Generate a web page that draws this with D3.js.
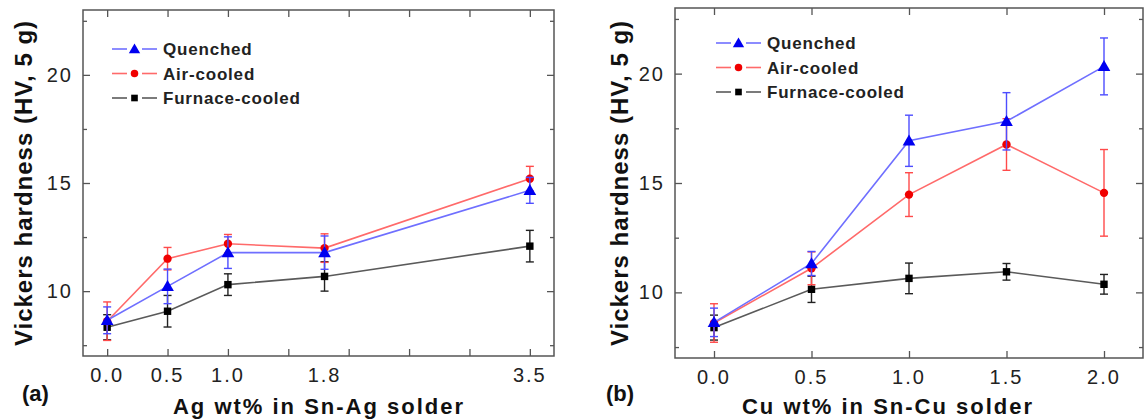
<!DOCTYPE html>
<html>
<head>
<meta charset="utf-8">
<script src="https://cdn.jsdelivr.net/npm/d3@7"></script>
<style>
  body { margin: 0; background: #fff; }
  svg { display: block; font-family: "Liberation Sans", Arial, sans-serif; }
</style>
</head>
<body>
<svg width="1148" height="419"></svg>
<script>
// series names
var seriesNames = ["Quenched", "Air-cooled", "Furnace-cooled"];

// panel (a): Sn-Ag solder
var agX = [0, 0.5, 1.0, 1.8, 3.5];
var agQuenched = [8.65, 10.22, 11.78, 11.78, 14.66];
var agQuenchedErr = [0.62, 0.8, 0.73, 0.77, 0.6];
var agAir = [8.61, 11.5, 12.19, 11.99, 15.2];
var agAirErr = [0.89, 0.52, 0.43, 0.66, 0.57];
var agFurnace = [8.33, 9.07, 10.3, 10.68, 12.08];
var agFurnaceErr = [0.58, 0.73, 0.5, 0.68, 0.73];
var agTickLabels = [0, 0.5, 1.0, 1.8, 3.5];
var agTickMarks = [0, 0.5, 1.0, 1.5, 2.0, 2.5, 3.0, 3.5];

// panel (b): Sn-Cu solder
var cuX = [0, 0.5, 1.0, 1.5, 2.0];
var cuQuenched = [8.63, 11.32, 16.93, 17.82, 20.33];
var cuQuenchedErr = [0.65, 0.55, 1.17, 1.31, 1.3];
var cuAir = [8.6, 11.1, 14.47, 16.76, 14.55];
var cuAirErr = [0.88, 0.75, 1.0, 1.18, 1.98];
var cuFurnace = [8.39, 10.14, 10.64, 10.94, 10.37];
var cuFurnaceErr = [0.57, 0.6, 0.7, 0.38, 0.45];
var cuTickLabels = [0, 0.5, 1.0, 1.5, 2.0];
var cuTickMarks = [0, 0.5, 1.0, 1.5, 2.0];

var yMajor = [10, 15, 20];
var yMinor = [7.5, 12.5, 17.5, 22.5];

var styles = [
  {line: "#6f6fff", mark: "#0000f0", err: "#4d4dff", shape: d3.symbolTriangle, size: 70},
  {line: "#ff6a6a", mark: "#f00000", err: "#ff4a4a", shape: d3.symbolCircle, size: 55},
  {line: "#5a5a5a", mark: "#000000", err: "#222222", shape: d3.symbolSquare, size: 55}
];

var svg = d3.select("svg");

function drawPanel(p) {
  var x = d3.scaleLinear().domain(p.xDomain).range([p.left, p.right]);
  var y = d3.scaleLinear().domain([7, 23]).range([p.bottom, p.top]);
  var g = svg.append("g");

  // ticks, all pointing inward
  g.append("g").attr("transform", "translate(0," + p.bottom + ")")
    .call(d3.axisBottom(x).tickValues(p.tickMarks).tickSize(-7).tickFormat(""));
  g.append("g").attr("transform", "translate(0," + p.top + ")")
    .call(d3.axisTop(x).tickValues(p.tickMarks).tickSize(-7).tickFormat(""));
  g.append("g").attr("transform", "translate(" + p.left + ",0)")
    .call(d3.axisLeft(y).tickValues(yMajor).tickSize(-7).tickFormat(""));
  g.append("g").attr("transform", "translate(" + p.left + ",0)")
    .call(d3.axisLeft(y).tickValues(yMinor).tickSize(-4).tickFormat(""));
  g.append("g").attr("transform", "translate(" + p.right + ",0)")
    .call(d3.axisRight(y).tickValues(yMajor).tickSize(-7).tickFormat(""));
  g.append("g").attr("transform", "translate(" + p.right + ",0)")
    .call(d3.axisRight(y).tickValues(yMinor).tickSize(-4).tickFormat(""));
  g.selectAll(".domain").remove();
  g.selectAll(".tick line").attr("stroke", "#555").attr("stroke-width", 1.3);

  // tick labels
  g.append("g").selectAll("text").data(p.tickLabels).join("text")
    .attr("x", function(d) { return x(d); })
    .attr("y", p.bottom + 26)
    .attr("text-anchor", "middle")
    .attr("font-size", 20).attr("letter-spacing", 2)
    .attr("fill", "#222")
    .text(function(d) { return d3.format(".1f")(d); });
  g.append("g").selectAll("text").data(yMajor).join("text")
    .attr("x", p.left - 10)
    .attr("y", function(d) { return y(d) + 7; })
    .attr("text-anchor", "end")
    .attr("font-size", 20).attr("letter-spacing", 2)
    .attr("fill", "#222")
    .text(function(d) { return d; });

  // frame
  g.append("rect")
    .attr("x", p.left).attr("y", p.top)
    .attr("width", p.right - p.left).attr("height", p.bottom - p.top)
    .attr("fill", "none").attr("stroke", "#555").attr("stroke-width", 1.5);

  // titles
  g.append("text")
    .attr("x", p.xTitleX).attr("y", 414)
    .attr("text-anchor", "middle")
    .attr("font-size", 22).attr("font-weight", "bold").attr("letter-spacing", 2)
    .attr("fill", "#111")
    .text(p.xTitle);
  g.append("text")
    .attr("transform", "translate(" + p.yTitleX + "," + (p.top + p.bottom) / 2 + ") rotate(-90)")
    .attr("text-anchor", "middle")
    .attr("font-size", 24).attr("font-weight", "bold").attr("letter-spacing", 1)
    .attr("fill", "#111")
    .text("Vickers hardness (HV, 5 g)");
  g.append("text")
    .attr("x", p.tagX).attr("y", 401)
    .attr("font-size", 22).attr("font-weight", "bold")
    .attr("fill", "#111")
    .text(p.tag);

  // series: furnace, air, quenched
  [2, 1, 0].forEach(function(k) {
    var s = styles[k];
    var pts = p.xs.map(function(v, i) { return {x: v, y: p.series[k][i], e: p.errs[k][i]}; });
    var sg = g.append("g");
    sg.append("path").datum(pts)
      .attr("fill", "none").attr("stroke", s.line).attr("stroke-width", 1.6)
      .attr("d", d3.line().x(function(d) { return x(d.x); }).y(function(d) { return y(d.y); }));
    var eb = sg.selectAll(".eb").data(pts).join("g")
      .attr("stroke", s.err).attr("stroke-width", 1.4);
    eb.append("line")
      .attr("x1", function(d) { return x(d.x); }).attr("x2", function(d) { return x(d.x); })
      .attr("y1", function(d) { return y(d.y + d.e); }).attr("y2", function(d) { return y(d.y - d.e); });
    eb.append("line")
      .attr("x1", function(d) { return x(d.x) - 4; }).attr("x2", function(d) { return x(d.x) + 4; })
      .attr("y1", function(d) { return y(d.y + d.e); }).attr("y2", function(d) { return y(d.y + d.e); });
    eb.append("line")
      .attr("x1", function(d) { return x(d.x) - 4; }).attr("x2", function(d) { return x(d.x) + 4; })
      .attr("y1", function(d) { return y(d.y - d.e); }).attr("y2", function(d) { return y(d.y - d.e); });
    sg.selectAll(".mk").data(pts).join("path")
      .attr("transform", function(d) { return "translate(" + x(d.x) + "," + (y(d.y) + (k === 0 ? 1 : 0)) + ")"; })
      .attr("d", d3.symbol().type(s.shape).size(s.size))
      .attr("fill", s.mark);
  });

  // legend
  var lg = g.append("g");
  seriesNames.forEach(function(name, k) {
    var s = styles[k];
    var ly = p.legendY + k * 24.5;
    var lx = p.legendX;
    lg.append("line").attr("x1", lx).attr("x2", lx + 15).attr("y1", ly).attr("y2", ly)
      .attr("stroke", s.line).attr("stroke-width", 1.6);
    lg.append("line").attr("x1", lx + 30).attr("x2", lx + 45).attr("y1", ly).attr("y2", ly)
      .attr("stroke", s.line).attr("stroke-width", 1.6);
    lg.append("path")
      .attr("transform", "translate(" + (lx + 22.5) + "," + (ly + (k === 0 ? 1 : 0)) + ")")
      .attr("d", d3.symbol().type(s.shape).size(s.size * 0.8))
      .attr("fill", s.mark);
    lg.append("text").attr("x", lx + 51).attr("y", ly + 6)
      .attr("font-size", 17).attr("font-weight", "bold").attr("letter-spacing", 0.8)
      .attr("fill", "#222")
      .text(name);
  });
}

drawPanel({
  left: 83, right: 554, top: 10, bottom: 356,
  xDomain: [-0.2, 3.7],
  tickMarks: agTickMarks, tickLabels: agTickLabels,
  xs: agX,
  series: [agQuenched, agAir, agFurnace],
  errs: [agQuenchedErr, agAirErr, agFurnaceErr],
  xTitle: "Ag wt% in Sn-Ag solder", xTitleX: 319,
  yTitleX: 32, tag: "(a)", tagX: 22,
  legendX: 112, legendY: 49
});

drawPanel({
  left: 675, right: 1143, top: 8, bottom: 358,
  xDomain: [-0.2, 2.2],
  tickMarks: cuTickMarks, tickLabels: cuTickLabels,
  xs: cuX,
  series: [cuQuenched, cuAir, cuFurnace],
  errs: [cuQuenchedErr, cuAirErr, cuFurnaceErr],
  xTitle: "Cu wt% in Sn-Cu solder", xTitleX: 888,
  yTitleX: 628, tag: "(b)", tagX: 606,
  legendX: 716, legendY: 43
});
</script>
</body>
</html>
